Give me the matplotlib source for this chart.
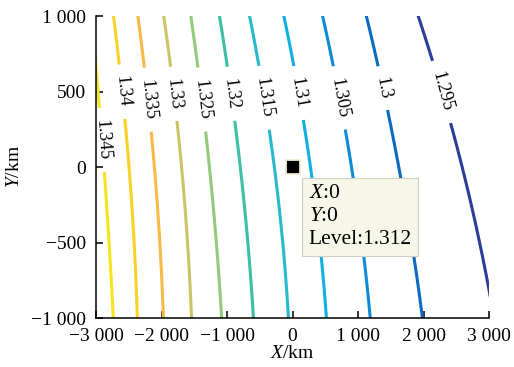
import numpy as np
import matplotlib
matplotlib.use("Agg")
import matplotlib.pyplot as plt
from matplotlib.ticker import FuncFormatter

plt.rcParams.update({"font.family": "Liberation Serif", "font.size": 13,
                     "mathtext.fontset": "custom",
                     "mathtext.rm": "Liberation Serif",
                     "mathtext.it": "Liberation Serif:italic"})

# ---- contour levels and where each one crosses a few rows (km) -------------
LEVELS = np.array([1.295, 1.300, 1.305, 1.310, 1.315, 1.320,
                   1.325, 1.330, 1.335, 1.340, 1.345])
ROW_Y = np.array([1000, 828, 0, -500, -1000])
# x of each level on the rows above; nan = level is outside the box there
CROSS_X = np.array([
    [1908, 2061, 2595, 2840, np.nan],        # 1.295
    [1115, 1237, 1618, 1817, 1985],          # 1.300
    [443, 565, 901, 1053, 1191],             # 1.305
    [-137, -46, 275, 412, 519],              # 1.310
    [-656, -580, -275, -153, -61],           # 1.315
    [-1115, -1053, -794, -687, -595],        # 1.320
    [-1542, -1511, -1267, -1160, -1084],     # 1.325
    [-1969, -1908, -1695, -1603, -1542],     # 1.330
    [-2366, -2305, -2107, -2031, -1969],     # 1.335
    [-2733, -2687, -2489, -2427, -2366],     # 1.340
    [np.nan, np.nan, -2870, -2809, -2733],   # 1.345
])
# outer levels leave the box through the side edges
EDGE_LEVEL = [1.295, 1.345]
EDGE_X = [3000, -3000]
EDGE_Y = [-788, 650]

LINE_COLORS = ["#2b3d9a", "#0a6bc0", "#0e8bd6", "#10afe2", "#27bacd",
               "#3cbfa6", "#94ca7a", "#cdc468", "#f8b946", "#fcd028",
               "#f5e420"]

# inline label anchors (x, y) in km
LABEL_POS = [(-2916, 179), (-2641, 497), (-2260, 444), (-1847, 483),
             (-1435, 444), (-977, 483), (-458, 457), (92, 490),
             (702, 457), (1389, 523), (2275, 497)]

DATATIP = (0, 0, 1.312)


def level_curves(yg):
    """x(y) for every level: quadratic through its crossing points."""
    xs = []
    for k, lv in enumerate(LEVELS):
        ok = ~np.isnan(CROSS_X[k])
        py = list(ROW_Y[ok])
        px = list(CROSS_X[k][ok])
        for el, ex, ey in zip(EDGE_LEVEL, EDGE_X, EDGE_Y):
            if np.isclose(el, lv):
                py.append(ey)
                px.append(ex)
        c = np.polyfit(py, px, 2)
        xs.append(np.polyval(c, yg))
    return np.array(xs)            # (n_levels, n_y), x decreasing with level


def build_field():
    xg = np.linspace(-3600, 3600, 721)
    yg = np.linspace(-1100, 1100, 221)
    xs = level_curves(yg)
    step = LEVELS[1] - LEVELS[0]
    lv_ext = np.concatenate([[LEVELS[-1] + step], LEVELS[::-1],
                             [LEVELS[0] - step]])
    Z = np.empty((yg.size, xg.size))
    for i in range(yg.size):
        xr = xs[::-1, i]
        xr_ext = np.concatenate([[xr[0] - 600], xr, [xr[-1] + 600]])
        Z[i] = np.interp(xg, xr_ext, lv_ext)
    return xg, yg, Z


def km_fmt(v, _):
    s = f"{abs(v):,.0f}".replace(",", " ")
    return ("\u2212" + s) if v < 0 else s


xg, yg, Z = build_field()

fig = plt.figure(figsize=(5.14, 3.67), dpi=100)
ax = fig.add_axes([0.1868, 0.1335, 0.7646, 0.8229])

cs = ax.contour(xg, yg, Z, levels=LEVELS, colors=LINE_COLORS,
                linewidths=2.2)
ax.clabel(cs, fmt="%g", manual=LABEL_POS, inline=True, inline_spacing=9,
          fontsize=13, colors="k")

ax.set_xlim(-3000, 3000)
ax.set_ylim(-1000, 1000)
ax.set_xticks(np.arange(-3000, 3001, 1000))
ax.set_yticks(np.arange(-1000, 1001, 500))
ax.xaxis.set_major_formatter(FuncFormatter(km_fmt))
ax.yaxis.set_major_formatter(FuncFormatter(km_fmt))
ax.tick_params(direction="in", length=5, width=1.1, labelsize=14)
ax.tick_params(axis="x", pad=7)
ax.tick_params(axis="y", pad=7)
for s in ("top", "right"):
    ax.spines[s].set_visible(False)
for s in ("left", "bottom"):
    ax.spines[s].set_linewidth(1.1)
ax.set_xlabel("$X$/km", fontsize=14, labelpad=0)
ax.set_ylabel("$Y$/km", fontsize=14, labelpad=6)

# data tip at the origin
tx, ty, tl = DATATIP
ax.plot(tx, ty, "s", ms=10, mfc="k", mec="#f1edd2", mew=1.3, zorder=6,
        clip_on=False)
ax.annotate(f"$X$:{tx}\n$Y$:{ty}\nLevel:{tl}", xy=(tx, ty),
            xytext=(16, -17), textcoords="offset pixels", ha="left", va="top",
            fontsize=15.5, linespacing=1.3, zorder=7,
            bbox=dict(boxstyle="square,pad=0.3", fc="#f7f7e9", ec="#cfcfc4",
                      lw=0.8))

fig.savefig("out.png", dpi=100)
